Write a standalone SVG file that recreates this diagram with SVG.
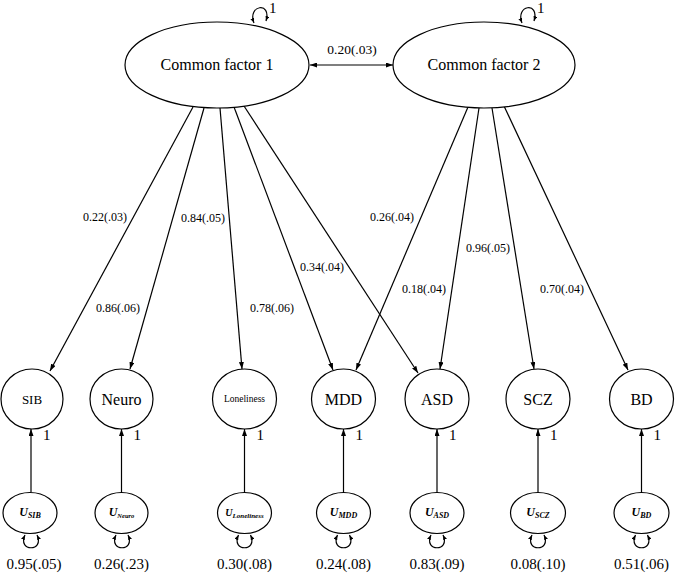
<svg xmlns="http://www.w3.org/2000/svg" width="675" height="573" viewBox="0 0 675 573" font-family="'Liberation Serif', 'DejaVu Serif', serif">
<style>
  .shape { fill: #fff; stroke: #000; stroke-width: 1.2; }
  .edge { fill: none; stroke: #000; stroke-width: 1.2; }
  text { font-family: 'Liberation Serif', 'DejaVu Serif', serif; fill: #000; }
  .big { font-size: 16px; text-anchor: middle; }
  .load { font-size: 12px; text-anchor: middle; }
  .var { font-size: 15px; text-anchor: middle; }
  .one { font-size: 15px; }
  .u { font-size: 12px; font-style: italic; font-weight: bold; text-anchor: middle; }
  .sub { font-size: 8px; }
</style>
<defs>
  <marker id="ah" viewBox="0 0 7 5" refX="7" refY="2.5" markerWidth="7" markerHeight="5" markerUnits="userSpaceOnUse" orient="auto-start-reverse">
    <path d="M0,0 L7,2.5 L0,5 z" fill="#000"/>
  </marker>
  <marker id="sm" viewBox="0 0 5 4" refX="5" refY="2" markerWidth="5" markerHeight="4" markerUnits="userSpaceOnUse" orient="auto-start-reverse">
    <path d="M0,0 L5,2 L0,4 z" fill="#000"/>
  </marker>
</defs>

<g id="connectors">
  <line class="edge" x1="310" y1="65" x2="393" y2="65" marker-start="url(#ah)" marker-end="url(#ah)"/>
  <path class="edge" d="M254,23 C247,5 272,1 266,21" marker-start="url(#sm)" marker-end="url(#sm)"/>
  <path class="edge" d="M522,23 C515,5 540,1 534,21" marker-start="url(#sm)" marker-end="url(#sm)"/>
  <line class="edge" x1="193" y1="107" x2="50" y2="371" marker-end="url(#ah)"/>
  <line class="edge" x1="204" y1="108" x2="130" y2="369" marker-end="url(#ah)"/>
  <line class="edge" x1="220" y1="108" x2="242" y2="369" marker-end="url(#ah)"/>
  <line class="edge" x1="234" y1="107" x2="333" y2="370" marker-end="url(#ah)"/>
  <line class="edge" x1="244" y1="106" x2="418" y2="373" marker-end="url(#ah)"/>
  <line class="edge" x1="468" y1="107" x2="356" y2="370" marker-end="url(#ah)"/>
  <line class="edge" x1="479" y1="108" x2="440" y2="369" marker-end="url(#ah)"/>
  <line class="edge" x1="492" y1="108" x2="534" y2="369" marker-end="url(#ah)"/>
  <line class="edge" x1="504" y1="106" x2="628" y2="370" marker-end="url(#ah)"/>
  <line class="edge" x1="31" y1="492" x2="31" y2="429" marker-end="url(#ah)"/>
  <line class="edge" x1="121.5" y1="492" x2="121.5" y2="429" marker-end="url(#ah)"/>
  <line class="edge" x1="244.5" y1="492" x2="244.5" y2="429" marker-end="url(#ah)"/>
  <line class="edge" x1="343.5" y1="492" x2="343.5" y2="429" marker-end="url(#ah)"/>
  <line class="edge" x1="437" y1="492" x2="437" y2="429" marker-end="url(#ah)"/>
  <line class="edge" x1="538" y1="492" x2="538" y2="429" marker-end="url(#ah)"/>
  <line class="edge" x1="641.5" y1="492" x2="641.5" y2="429" marker-end="url(#ah)"/>
  <path class="edge" d="M25,535 C17,552 45,552 37,535" marker-start="url(#sm)" marker-end="url(#sm)"/>
  <path class="edge" d="M116,535 C108,552 136,552 128,535" marker-start="url(#sm)" marker-end="url(#sm)"/>
  <path class="edge" d="M238.5,535 C230.5,552 258.5,552 250.5,535" marker-start="url(#sm)" marker-end="url(#sm)"/>
  <path class="edge" d="M337.5,535 C329.5,552 357.5,552 349.5,535" marker-start="url(#sm)" marker-end="url(#sm)"/>
  <path class="edge" d="M431,535 C423,552 451,552 443,535" marker-start="url(#sm)" marker-end="url(#sm)"/>
  <path class="edge" d="M532,535 C524,552 552,552 544,535" marker-start="url(#sm)" marker-end="url(#sm)"/>
  <path class="edge" d="M635.5,535 C627.5,552 655.5,552 647.5,535" marker-start="url(#sm)" marker-end="url(#sm)"/>
  <text class="big" x="352" y="54" style="font-size:13.5px">0.20(.03)</text>
  <text class="one" x="269" y="13">1</text>
  <text class="one" x="537" y="13">1</text>
  <text class="load" x="105" y="221">0.22(.03)</text>
  <text class="load" x="203" y="222">0.84(.05)</text>
  <text class="load" x="322" y="271">0.34(.04)</text>
  <text class="load" x="118" y="312">0.86(.06)</text>
  <text class="load" x="272" y="312">0.78(.06)</text>
  <text class="load" x="392" y="221">0.26(.04)</text>
  <text class="load" x="488" y="252">0.96(.05)</text>
  <text class="load" x="424" y="293">0.18(.04)</text>
  <text class="load" x="562" y="293">0.70(.04)</text>
  <text class="one" x="43" y="440">1</text>
  <text class="one" x="133.5" y="440">1</text>
  <text class="one" x="256.5" y="440">1</text>
  <text class="one" x="355.5" y="440">1</text>
  <text class="one" x="449" y="440">1</text>
  <text class="one" x="550" y="440">1</text>
  <text class="one" x="653.5" y="440">1</text>
  <text class="var" x="34" y="569">0.95(.05)</text>
  <text class="var" x="121.5" y="569">0.26(.23)</text>
  <text class="var" x="244.5" y="569">0.30(.08)</text>
  <text class="var" x="343.5" y="569">0.24(.08)</text>
  <text class="var" x="437" y="569">0.83(.09)</text>
  <text class="var" x="538" y="569">0.08(.10)</text>
  <text class="var" x="641.5" y="569">0.51(.06)</text>
</g>

<g id="cf1">
  <ellipse class="shape" cx="217" cy="65" rx="92" ry="43"/>
  <text class="big" x="217" y="70">Common factor 1</text>
</g>
<g id="cf2">
  <ellipse class="shape" cx="484" cy="65" rx="91" ry="43"/>
  <text class="big" x="484" y="70">Common factor 2</text>
</g>

<g id="sib"><ellipse class="shape" cx="32" cy="399" rx="31" ry="30"/><text class="big" x="32" y="404" style="font-size:13px">SIB</text></g>
<g id="neuro"><ellipse class="shape" cx="121.5" cy="399" rx="31.5" ry="30"/><text class="big" x="121.5" y="405">Neuro</text></g>
<g id="loneliness"><ellipse class="shape" cx="244.5" cy="399" rx="32" ry="30"/><text class="big" x="244.5" y="402" style="font-size:9.5px">Loneliness</text></g>
<g id="mdd"><ellipse class="shape" cx="343.5" cy="399" rx="32" ry="30"/><text class="big" x="343.5" y="405">MDD</text></g>
<g id="asd"><ellipse class="shape" cx="437" cy="399" rx="32" ry="30"/><text class="big" x="437" y="405">ASD</text></g>
<g id="scz"><ellipse class="shape" cx="538" cy="399" rx="32" ry="30"/><text class="big" x="538" y="405">SCZ</text></g>
<g id="bd"><ellipse class="shape" cx="641.5" cy="399" rx="32" ry="30"/><text class="big" x="641.5" y="405">BD</text></g>

<g id="u_sib"><ellipse class="shape" cx="30" cy="513" rx="27" ry="20.5"/><text class="u" x="30" y="516">U<tspan class="sub" dy="2">SIB</tspan></text></g>
<g id="u_neuro"><ellipse class="shape" cx="121.5" cy="513" rx="26.5" ry="20.5"/><text class="u" x="121.5" y="516">U<tspan class="sub" dy="2" style="font-size:6.5px">Neuro</tspan></text></g>
<g id="u_loneliness"><ellipse class="shape" cx="244.5" cy="513" rx="27" ry="20.5"/><text class="u" x="244.5" y="516" style="font-size:10px">U<tspan class="sub" dy="2" style="font-size:7px">Loneliness</tspan></text></g>
<g id="u_mdd"><ellipse class="shape" cx="343.5" cy="513" rx="27" ry="20.5"/><text class="u" x="343.5" y="516">U<tspan class="sub" dy="2">MDD</tspan></text></g>
<g id="u_asd"><ellipse class="shape" cx="437" cy="513" rx="27" ry="20.5"/><text class="u" x="437" y="516">U<tspan class="sub" dy="2">ASD</tspan></text></g>
<g id="u_scz"><ellipse class="shape" cx="538" cy="513" rx="27.5" ry="20.5"/><text class="u" x="538" y="516">U<tspan class="sub" dy="2">SCZ</tspan></text></g>
<g id="u_bd"><ellipse class="shape" cx="641.5" cy="513" rx="27.5" ry="20.5"/><text class="u" x="641.5" y="516">U<tspan class="sub" dy="2">BD</tspan></text></g>
</svg>
